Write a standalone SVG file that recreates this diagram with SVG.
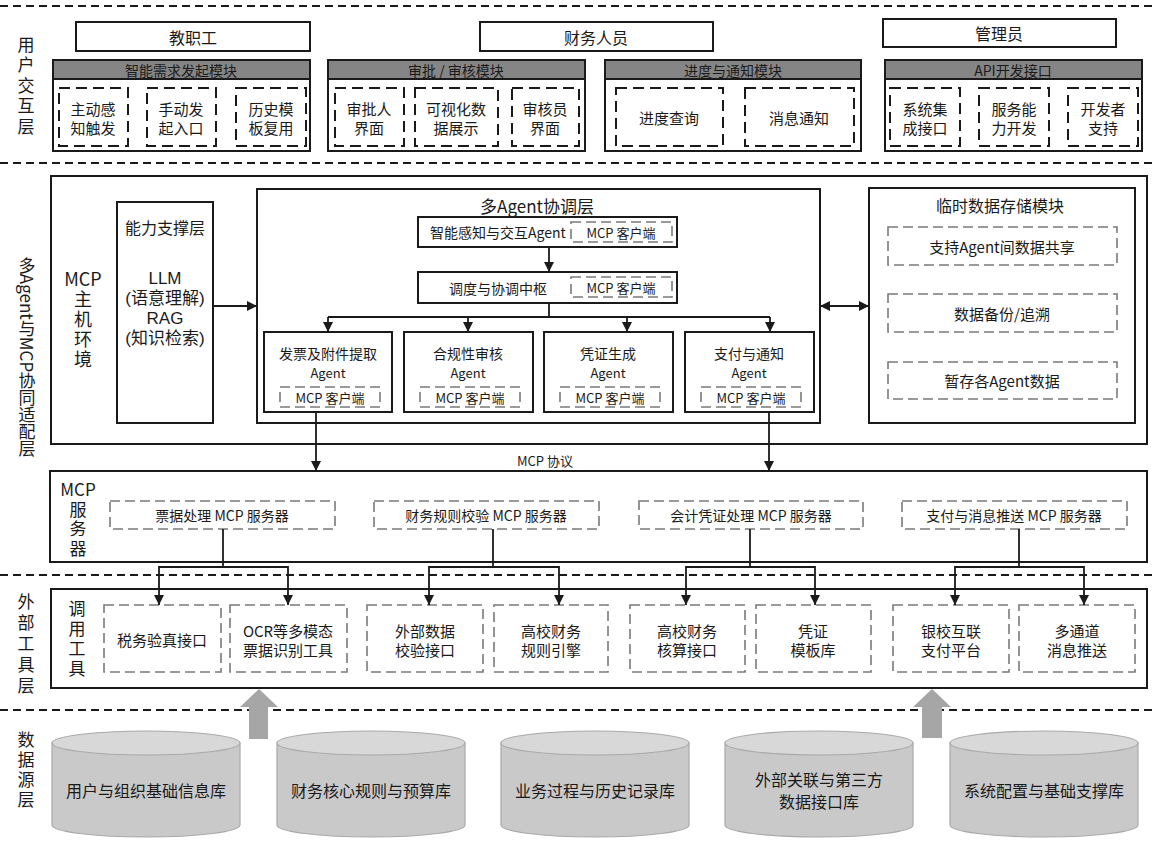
<svg xmlns="http://www.w3.org/2000/svg" width="1153" height="843" viewBox="0 0 1153 843">
<style>
text{font-family:"Noto Sans CJK SC","Noto Sans",sans-serif;fill:#1a1a1a;text-anchor:middle;dominant-baseline:central}
text.ls{font-family:"Liberation Sans","Noto Sans CJK SC",sans-serif}
.v{writing-mode:tb}
.sep{stroke:#1a1a1a;stroke-width:2;stroke-dasharray:8 5;fill:none}
.box{fill:#fff;stroke:#1a1a1a;stroke-width:2}
.hdr{fill:#858585;stroke:#1a1a1a;stroke-width:2}
.dk{fill:none;stroke:#1a1a1a;stroke-width:2;stroke-dasharray:11 6}
.dg{fill:none;stroke:#7a7a7a;stroke-width:1.6;stroke-dasharray:10 5}
.con{fill:none;stroke:#1a1a1a;stroke-width:1.8}
.blk{fill:#a6a6a6}
.cylb{fill:#c9c9c9;stroke:#a9a9a9;stroke-width:1.2}
.cylt{fill:#d8d8d8;stroke:#a9a9a9;stroke-width:1.2}
.f13{font-size:13px}.f14{font-size:14px}.f15{font-size:15px}.f16{font-size:16px}.f17{font-size:17px}.f18{font-size:18px}
</style>
<defs>
<marker id="ah" viewBox="0 0 10 10" refX="10" refY="5" markerWidth="10" markerHeight="10" markerUnits="userSpaceOnUse" orient="auto-start-reverse"><path d="M0,0 L10,5 L0,10 z" fill="#1a1a1a"/></marker>
</defs>

<g id="separators">
<line class="sep" x1="0" y1="6" x2="1153" y2="6"/>
<line class="sep" x1="0" y1="163" x2="1153" y2="163"/>
<line class="sep" x1="0" y1="575" x2="1153" y2="575"/>
<line class="sep" x1="0" y1="710" x2="1153" y2="710"/>
</g>

<g id="layer-labels" class="f17">
<text class="v" x="26" y="87" letter-spacing="3.5">用户交互层</text>
<text class="v" x="27" y="357">多Agent与MCP协同适配层</text>
<text class="v" x="26" y="646" letter-spacing="4">外部工具层</text>
<text class="v" x="26" y="771" letter-spacing="3">数据源层</text>
</g>

<!-- User interaction layer -->
<g id="role-teacher"><rect class="box" x="76" y="22" width="234" height="29"/><text class="f16" x="193" y="37">教职工</text></g>
<g id="role-finance"><rect class="box" x="480" y="22" width="233" height="29"/><text class="f16" x="596" y="37">财务人员</text></g>
<g id="role-admin"><rect class="box" x="883" y="19" width="233" height="28"/><text class="f16" x="999" y="33">管理员</text></g>

<g id="module-request">
<rect class="box" x="53" y="60" width="257" height="91"/><rect class="hdr" x="53" y="60" width="257" height="19"/>
<text class="f14" x="181" y="70">智能需求发起模块</text>
<rect class="dk" x="59" y="88" width="69" height="58"/><text class="f15" x="93" y="108">主动感</text><text class="f15" x="93" y="127">知触发</text>
<rect class="dk" x="147" y="88" width="69" height="58"/><text class="f15" x="181" y="108">手动发</text><text class="f15" x="181" y="127">起入口</text>
<rect class="dk" x="236" y="88" width="70" height="58"/><text class="f15" x="271" y="108">历史模</text><text class="f15" x="271" y="127">板复用</text>
</g>
<g id="module-approve">
<rect class="box" x="328" y="60" width="257" height="91"/><rect class="hdr" x="328" y="60" width="257" height="19"/>
<text class="f14" x="456" y="70">审批 / 审核模块</text>
<rect class="dk" x="335" y="88" width="69" height="58"/><text class="f15" x="369" y="108">审批人</text><text class="f15" x="369" y="127">界面</text>
<rect class="dk" x="415" y="88" width="83" height="58"/><text class="f15" x="456" y="108">可视化数</text><text class="f15" x="456" y="127">据展示</text>
<rect class="dk" x="512" y="88" width="67" height="58"/><text class="f15" x="545" y="108">审核员</text><text class="f15" x="545" y="127">界面</text>
</g>
<g id="module-progress">
<rect class="box" x="605" y="60" width="256" height="91"/><rect class="hdr" x="605" y="60" width="256" height="19"/>
<text class="f14" x="733" y="70">进度与通知模块</text>
<rect class="dk" x="616" y="88" width="107" height="58"/><text class="f15" x="669" y="117">进度查询</text>
<rect class="dk" x="745" y="88" width="109" height="58"/><text class="f15" x="799" y="117">消息通知</text>
</g>
<g id="module-api">
<rect class="box" x="885" y="60" width="257" height="91"/><rect class="hdr" x="885" y="60" width="257" height="19"/>
<text class="f14" x="1013" y="70">API开发接口</text>
<rect class="dk" x="890" y="88" width="70" height="58"/><text class="f15" x="925" y="108">系统集</text><text class="f15" x="925" y="127">成接口</text>
<rect class="dk" x="979" y="88" width="70" height="58"/><text class="f15" x="1014" y="108">服务能</text><text class="f15" x="1014" y="127">力开发</text>
<rect class="dk" x="1068" y="88" width="70" height="58"/><text class="f15" x="1103" y="108">开发者</text><text class="f15" x="1103" y="127">支持</text>
</g>

<!-- MCP host -->
<g id="mcp-host">
<rect class="box" x="51" y="176" width="1096" height="268"/>
<text class="f18" x="83" y="278">MCP</text>
<text class="f18 v" x="83" y="330" letter-spacing="2">主机环境</text>
</g>
<g id="capability">
<rect class="box" x="117" y="202" width="96" height="221"/>
<text class="f16" x="165" y="227">能力支撑层</text>
<text class="f17 ls" x="165" y="278">LLM</text>
<text class="f17 ls" x="165" y="298">(语意理解)</text>
<text class="f17 ls" x="165" y="318">RAG</text>
<text class="f17 ls" x="165" y="338">(知识检索)</text>
</g>
<g id="multi-agent">
<rect class="box" x="257" y="189" width="563" height="234"/>
<text class="f17" x="537" y="205">多Agent协调层</text>
</g>
<g id="agent-perception">
<rect class="box" x="418" y="217" width="259" height="30"/>
<text class="f14" x="498" y="232">智能感知与交互Agent</text>
<rect class="dg" x="571" y="222" width="101" height="20"/><text class="f13" x="621" y="232">MCP 客户端</text>
</g>
<g id="hub">
<rect class="box" x="418" y="272" width="259" height="31"/>
<text class="f14" x="498" y="288">调度与协调中枢</text>
<rect class="dg" x="571" y="277" width="101" height="20"/><text class="f13" x="621" y="287">MCP 客户端</text>
</g>
<g id="agent-invoice">
<rect class="box" x="264" y="332" width="128" height="80"/>
<text class="f14" x="328" y="353">发票及附件提取</text><text class="f13" x="328" y="372">Agent</text>
<rect class="dg" x="280" y="387" width="100" height="20"/><text class="f13" x="330" y="397">MCP 客户端</text>
</g>
<g id="agent-compliance">
<rect class="box" x="404" y="332" width="129" height="80"/>
<text class="f14" x="468" y="353">合规性审核</text><text class="f13" x="468" y="372">Agent</text>
<rect class="dg" x="420" y="387" width="100" height="20"/><text class="f13" x="470" y="397">MCP 客户端</text>
</g>
<g id="agent-voucher">
<rect class="box" x="544" y="332" width="129" height="80"/>
<text class="f14" x="608" y="353">凭证生成</text><text class="f13" x="608" y="372">Agent</text>
<rect class="dg" x="560" y="387" width="100" height="20"/><text class="f13" x="610" y="397">MCP 客户端</text>
</g>
<g id="agent-payment">
<rect class="box" x="685" y="332" width="129" height="80"/>
<text class="f14" x="749" y="353">支付与通知</text><text class="f13" x="749" y="372">Agent</text>
<rect class="dg" x="701" y="387" width="100" height="20"/><text class="f13" x="751" y="397">MCP 客户端</text>
</g>
<g id="temp-storage">
<rect class="box" x="869" y="188" width="266" height="235"/>
<text class="f16" x="1000" y="205">临时数据存储模块</text>
<rect class="dg" x="888" y="227" width="229" height="38"/><text class="f15" x="1002" y="246">支持Agent间数据共享</text>
<rect class="dg" x="888" y="294" width="229" height="38"/><text class="f15" x="1002" y="313">数据备份/追溯</text>
<rect class="dg" x="888" y="362" width="229" height="37"/><text class="f15" x="1002" y="380">暂存各Agent数据</text>
</g>

<!-- MCP servers -->
<g id="mcp-servers">
<rect class="box" x="50" y="471" width="1097" height="91"/>
<text class="f17" x="78" y="488">MCP</text>
<text class="f17 v" x="78" y="530" letter-spacing="2.5">服务器</text>
</g>
<g id="server-invoice"><rect class="dg" x="110" y="501" width="225" height="28"/><text class="f14" x="222" y="515">票据处理 MCP 服务器</text></g>
<g id="server-rules"><rect class="dg" x="374" y="501" width="225" height="28"/><text class="f14" x="486" y="515">财务规则校验 MCP 服务器</text></g>
<g id="server-voucher"><rect class="dg" x="639" y="501" width="224" height="28"/><text class="f14" x="751" y="515">会计凭证处理 MCP 服务器</text></g>
<g id="server-payment"><rect class="dg" x="902" y="501" width="225" height="28"/><text class="f14" x="1014" y="515">支付与消息推送 MCP 服务器</text></g>

<!-- Tools -->
<g id="tools">
<rect class="box" x="51" y="589" width="1096" height="99"/>
<text class="f17 v" x="77" y="640" letter-spacing="3">调用工具</text>
</g>
<g id="tool-tax"><rect class="dg" x="104" y="605" width="117" height="67"/><text class="f15" x="162" y="639">税务验真接口</text></g>
<g id="tool-ocr"><rect class="dg" x="230" y="605" width="117" height="67"/><text class="f15" x="288" y="630">OCR等多模态</text><text class="f15" x="288" y="649">票据识别工具</text></g>
<g id="tool-extdata"><rect class="dg" x="367" y="605" width="116" height="67"/><text class="f15" x="425" y="630">外部数据</text><text class="f15" x="425" y="649">校验接口</text></g>
<g id="tool-rules"><rect class="dg" x="494" y="605" width="114" height="67"/><text class="f15" x="551" y="630">高校财务</text><text class="f15" x="551" y="649">规则引擎</text></g>
<g id="tool-accounting"><rect class="dg" x="630" y="605" width="115" height="67"/><text class="f15" x="687" y="630">高校财务</text><text class="f15" x="687" y="649">核算接口</text></g>
<g id="tool-template"><rect class="dg" x="756" y="605" width="115" height="67"/><text class="f15" x="813" y="630">凭证</text><text class="f15" x="813" y="649">模板库</text></g>
<g id="tool-bank"><rect class="dg" x="893" y="605" width="116" height="67"/><text class="f15" x="951" y="630">银校互联</text><text class="f15" x="951" y="649">支付平台</text></g>
<g id="tool-msg"><rect class="dg" x="1019" y="605" width="116" height="67"/><text class="f15" x="1077" y="630">多通道</text><text class="f15" x="1077" y="649">消息推送</text></g>

<!-- Data sources -->
<g id="db-user"><path class="cylb" d="M52,743 L52,825 A94,12 0 0 0 240,825 L240,743 Z"/><ellipse class="cylt" cx="146" cy="743" rx="94" ry="12"/><text class="f16" x="146" y="790">用户与组织基础信息库</text></g>
<g id="db-rules"><path class="cylb" d="M277,743 L277,825 A94,12 0 0 0 465,825 L465,743 Z"/><ellipse class="cylt" cx="371" cy="743" rx="94" ry="12"/><text class="f16" x="371" y="790">财务核心规则与预算库</text></g>
<g id="db-process"><path class="cylb" d="M501,743 L501,825 A94,12 0 0 0 689,825 L689,743 Z"/><ellipse class="cylt" cx="595" cy="743" rx="94" ry="12"/><text class="f16" x="595" y="790">业务过程与历史记录库</text></g>
<g id="db-external"><path class="cylb" d="M725,743 L725,825 A94,12 0 0 0 913,825 L913,743 Z"/><ellipse class="cylt" cx="819" cy="743" rx="94" ry="12"/><text class="f16" x="819" y="779">外部关联与第三方</text><text class="f16" x="819" y="801">数据接口库</text></g>
<g id="db-config"><path class="cylb" d="M950,743 L950,825 A94,12 0 0 0 1138,825 L1138,743 Z"/><ellipse class="cylt" cx="1044" cy="743" rx="94" ry="12"/><text class="f16" x="1044" y="790">系统配置与基础支撑库</text></g>

<!-- Connectors -->
<g id="connectors">
<line class="con" x1="213" y1="306" x2="257" y2="306" marker-end="url(#ah)"/>
<line class="con" x1="820" y1="306" x2="869" y2="306" marker-start="url(#ah)" marker-end="url(#ah)"/>
<line class="con" x1="549" y1="247" x2="549" y2="272" marker-end="url(#ah)"/>
<polyline class="con" points="549,303 549,317"/>
<line class="con" x1="328" y1="317" x2="770" y2="317"/>
<line class="con" x1="328" y1="317" x2="328" y2="332" marker-end="url(#ah)"/>
<line class="con" x1="468" y1="317" x2="468" y2="332" marker-end="url(#ah)"/>
<line class="con" x1="627" y1="317" x2="627" y2="332" marker-end="url(#ah)"/>
<line class="con" x1="770" y1="317" x2="770" y2="332" marker-end="url(#ah)"/>
<line class="con" x1="316" y1="412" x2="316" y2="471" marker-end="url(#ah)"/>
<line class="con" x1="769" y1="412" x2="769" y2="471" marker-end="url(#ah)"/>
<text class="f13" x="545" y="460">MCP 协议</text>
<polyline class="con" points="223,529 223,567"/><polyline class="con" points="159,605 159,567 288,567 288,605" marker-start="url(#ah)" marker-end="url(#ah)"/>
<polyline class="con" points="493,529 493,567"/><polyline class="con" points="429,605 429,567 559,567 559,605" marker-start="url(#ah)" marker-end="url(#ah)"/>
<polyline class="con" points="750,529 750,567"/><polyline class="con" points="686,605 686,567 815,567 815,605" marker-start="url(#ah)" marker-end="url(#ah)"/>
<polyline class="con" points="1019,529 1019,567"/><polyline class="con" points="955,605 955,567 1084,567 1084,605" marker-start="url(#ah)" marker-end="url(#ah)"/>
<polygon class="blk" points="259,689 278,707 268,707 268,739 249,739 249,707 240,707"/>
<polygon class="blk" points="932,689 951,707 942,707 942,738 922,738 922,707 913,707"/>
</g>
</svg>
